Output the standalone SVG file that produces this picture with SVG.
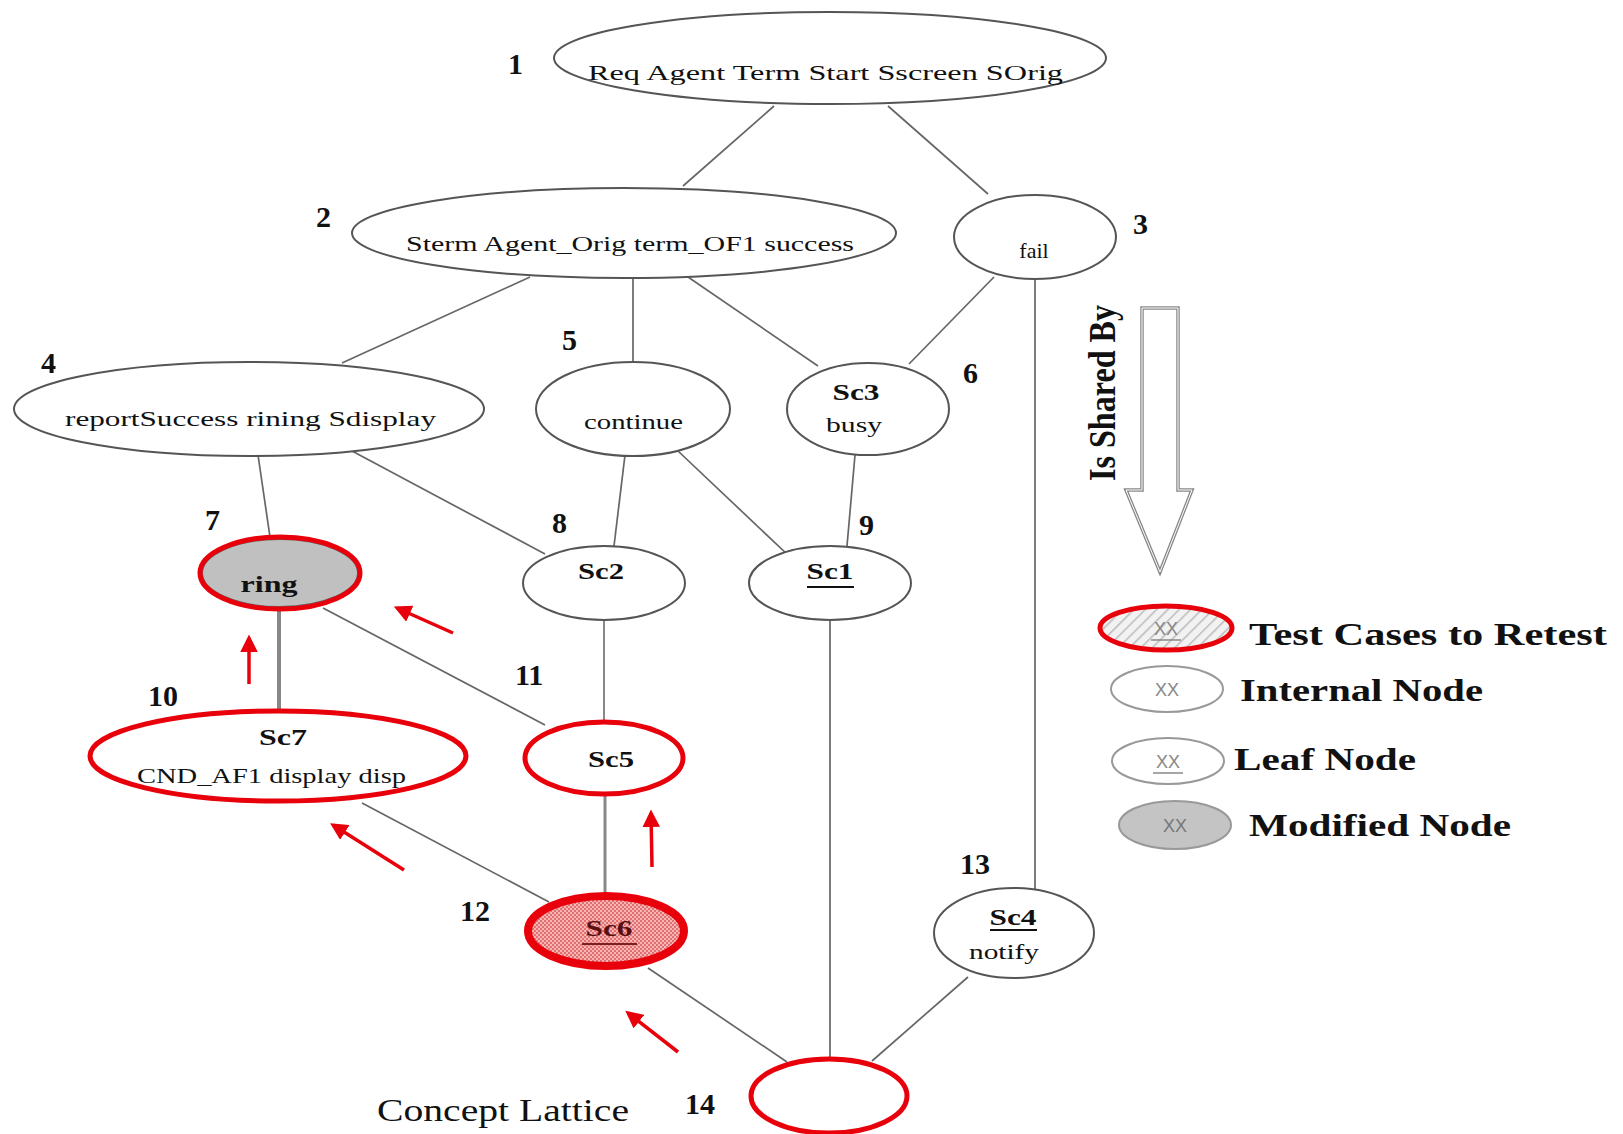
<svg xmlns="http://www.w3.org/2000/svg" width="1623" height="1134" viewBox="0 0 1623 1134">
<defs>
<style>
.nd{fill:#fff;stroke:#555;stroke-width:2}
.red{fill:none;stroke:#e8000b;stroke-width:5}
.t{font-family:"Liberation Serif",serif;font-size:22px;fill:#111}
.b{font-family:"Liberation Serif",serif;font-size:24px;font-weight:bold;fill:#111}
.num{font-family:"Liberation Serif",serif;font-size:30px;font-weight:bold;fill:#111}
.lg{font-family:"Liberation Serif",serif;font-size:32px;font-weight:bold;fill:#111}
.e{stroke:#666;stroke-width:1.7;fill:none}
.ra{stroke:#e8000b;stroke-width:3.5;fill:none;marker-end:url(#ah)}
.ul{stroke:#111;stroke-width:1.8}
</style>
<marker id="ah" viewBox="0 0 10 10" refX="8" refY="5" markerWidth="5" markerHeight="5" orient="auto">
<path d="M0,0 L10,5 L0,10 Z" fill="#e8000b"/>
</marker>
<pattern id="pink" width="4" height="4" patternUnits="userSpaceOnUse">
<rect width="4" height="4" fill="#f7b5b5"/>
<rect width="2" height="2" fill="#e07070"/>
<rect x="2" y="2" width="2" height="2" fill="#e07070"/>
</pattern>
<pattern id="hatch" width="8" height="8" patternUnits="userSpaceOnUse" patternTransform="rotate(45)">
<rect width="8" height="8" fill="#f2f2f2"/>
<line x1="0" y1="0" x2="0" y2="8" stroke="#bbb" stroke-width="3"/>
</pattern>
</defs>
<rect width="1623" height="1134" fill="#fff"/>

<g id="connectors">
<line class="e" x1="774" y1="106" x2="683" y2="186"/>
<line class="e" x1="888" y1="106" x2="988" y2="194"/>
<line class="e" x1="530" y1="277" x2="342" y2="363"/>
<line class="e" x1="633" y1="277" x2="633" y2="362"/>
<line class="e" x1="688" y1="277" x2="818" y2="366"/>
<line class="e" x1="994" y1="277" x2="909" y2="364"/>
<line class="e" x1="1035" y1="277" x2="1035" y2="890"/>
<line class="e" x1="258" y1="455" x2="270" y2="537"/>
<line class="e" x1="352" y1="451" x2="545" y2="554"/>
<line class="e" x1="625" y1="455" x2="614" y2="546"/>
<line class="e" x1="678" y1="451" x2="789" y2="556"/>
<line class="e" x1="855" y1="455" x2="847" y2="546"/>
<line x1="279" y1="610" x2="279" y2="710" stroke="#888" stroke-width="4"/>
<line class="e" x1="323" y1="608" x2="545" y2="725"/>
<line x1="604" y1="621" x2="604" y2="720" stroke="#888" stroke-width="2"/>
<line class="e" x1="830" y1="621" x2="830" y2="1058"/>
<line class="e" x1="362" y1="803" x2="549" y2="902"/>
<line x1="605" y1="795" x2="605" y2="895" stroke="#888" stroke-width="3"/>
<line class="e" x1="648" y1="968" x2="787" y2="1062"/>
<line class="e" x1="968" y1="977" x2="872" y2="1061"/>
</g>

<g id="change-arrows">
<line class="ra" x1="453" y1="633" x2="397" y2="608"/>
<line class="ra" x1="249" y1="684" x2="249" y2="638"/>
<line class="ra" x1="404" y1="870" x2="333" y2="825"/>
<line class="ra" x1="652" y1="867" x2="651" y2="813"/>
<line class="ra" x1="678" y1="1052" x2="628" y2="1013"/>
</g>

<g id="n1">
<ellipse class="nd" cx="830" cy="58" rx="276" ry="46"/>
<text class="t" x="588" y="80" textLength="475" lengthAdjust="spacingAndGlyphs">Req  Agent  Term  Start  Sscreen SOrig</text>
<text class="num" x="508" y="74">1</text>
</g>
<g id="n2">
<ellipse class="nd" cx="624" cy="233" rx="272" ry="45"/>
<text class="t" x="406" y="251" textLength="448" lengthAdjust="spacingAndGlyphs">Sterm  Agent_Orig  term_OF1  success</text>
<text class="num" x="316" y="227">2</text>
</g>
<g id="n3">
<ellipse class="nd" cx="1035" cy="237" rx="81" ry="42"/>
<text class="t" x="1034" y="258" text-anchor="middle">fail</text>
<text class="num" x="1133" y="234">3</text>
</g>
<g id="n4">
<ellipse class="nd" cx="249" cy="409" rx="235" ry="47"/>
<text class="t" x="65" y="426" textLength="371" lengthAdjust="spacingAndGlyphs">reportSuccess   rining   Sdisplay</text>
<text class="num" x="41" y="373">4</text>
</g>
<g id="n5">
<ellipse class="nd" cx="633" cy="409" rx="97" ry="47"/>
<text class="t" x="584" y="429" textLength="99" lengthAdjust="spacingAndGlyphs">continue</text>
<text class="num" x="562" y="350">5</text>
</g>
<g id="n6">
<ellipse class="nd" cx="868" cy="409" rx="81" ry="46"/>
<text class="b" x="856" y="400" text-anchor="middle" textLength="47" lengthAdjust="spacingAndGlyphs">Sc3</text>
<text class="t" x="854" y="432" text-anchor="middle" textLength="56" lengthAdjust="spacingAndGlyphs">busy</text>
<text class="num" x="963" y="383">6</text>
</g>
<g id="n7">
<ellipse cx="280" cy="573" rx="78" ry="34" fill="#c0c0c0" stroke="#666" stroke-width="2"/>
<ellipse class="red" cx="280" cy="573" rx="80" ry="36"/>
<text class="b" x="269" y="592" text-anchor="middle" textLength="57" lengthAdjust="spacingAndGlyphs">ring</text>
<text class="num" x="205" y="530">7</text>
</g>
<g id="n8">
<ellipse class="nd" cx="604" cy="583" rx="81" ry="37"/>
<text class="b" x="601" y="579" text-anchor="middle" textLength="46" lengthAdjust="spacingAndGlyphs">Sc2</text>
<text class="num" x="552" y="533">8</text>
</g>
<g id="n9">
<ellipse class="nd" cx="830" cy="583" rx="81" ry="37"/>
<text class="b" x="830" y="579" text-anchor="middle" textLength="47" lengthAdjust="spacingAndGlyphs">Sc1</text>
<line class="ul" x1="807" y1="587" x2="854" y2="587"/>
<text class="num" x="859" y="535">9</text>
</g>
<g id="n10">
<ellipse cx="278" cy="756" rx="188" ry="45" fill="#fff" stroke="#e8000b" stroke-width="5"/>
<text class="b" x="283" y="745" text-anchor="middle" textLength="48" lengthAdjust="spacingAndGlyphs">Sc7</text>
<text class="t" x="137" y="783" textLength="269" lengthAdjust="spacingAndGlyphs">CND_AF1 display disp</text>
<text class="num" x="148" y="706">10</text>
</g>
<g id="n11">
<ellipse cx="604" cy="758" rx="79" ry="36" fill="#fff" stroke="#e8000b" stroke-width="5"/>
<text class="b" x="611" y="767" text-anchor="middle" textLength="46" lengthAdjust="spacingAndGlyphs">Sc5</text>
<text class="num" x="515" y="685">11</text>
</g>
<g id="n12">
<ellipse cx="606" cy="931" rx="78" ry="35" fill="url(#pink)" stroke="#e8000b" stroke-width="8"/>
<text class="b" x="609" y="936" text-anchor="middle" textLength="47" lengthAdjust="spacingAndGlyphs" style="fill:#5a1010">Sc6</text>
<line x1="582" y1="944" x2="637" y2="944" stroke="#7a2020" stroke-width="1.8"/>
<text class="num" x="460" y="921">12</text>
</g>
<g id="n13">
<ellipse class="nd" cx="1014" cy="933" rx="80" ry="45"/>
<text class="b" x="1013" y="925" text-anchor="middle" textLength="47" lengthAdjust="spacingAndGlyphs">Sc4</text>
<line class="ul" x1="990" y1="930" x2="1037" y2="930"/>
<text class="t" x="1004" y="959" text-anchor="middle" textLength="70" lengthAdjust="spacingAndGlyphs">notify</text>
<text class="num" x="960" y="874">13</text>
</g>
<g id="n14">
<ellipse cx="829" cy="1096" rx="78" ry="37" fill="#fff" stroke="#e8000b" stroke-width="5"/>
<text class="num" x="685" y="1114">14</text>
</g>

<text id="caption" class="t" x="377" y="1121" style="font-size:31px" textLength="252" lengthAdjust="spacingAndGlyphs">Concept Lattice</text>

<g id="shared-arrow">
<path d="M1142,308 L1178,308 L1178,490 L1192,490 L1160,572 L1126,490 L1142,490 Z" fill="#fff" stroke="#888" stroke-width="3.5"/>
<path d="M1142,308 L1178,308 L1178,490 L1192,490 L1160,572 L1126,490 L1142,490 Z" fill="none" stroke="#fff" stroke-width="1"/>
<text class="b" x="0" y="0" style="font-size:38px" text-anchor="middle" textLength="176" lengthAdjust="spacingAndGlyphs" transform="translate(1115,393) rotate(-90)">Is Shared By</text>
</g>

<g id="legend">
<g id="lg-retest">
<ellipse cx="1166" cy="628" rx="66" ry="22" fill="url(#hatch)" stroke="#e8000b" stroke-width="5"/>
<text x="1166" y="635" text-anchor="middle" font-family="Liberation Sans,sans-serif" font-size="18" fill="#888">XX</text>
<line x1="1151" y1="640" x2="1181" y2="640" stroke="#888" stroke-width="1.5"/>
<text class="lg" x="1249" y="645" textLength="358" lengthAdjust="spacingAndGlyphs">Test Cases to Retest</text>
</g>
<g id="lg-internal">
<ellipse cx="1167" cy="689" rx="56" ry="23" fill="#fff" stroke="#999" stroke-width="2"/>
<text x="1167" y="696" text-anchor="middle" font-family="Liberation Sans,sans-serif" font-size="18" fill="#888">XX</text>
<text class="lg" x="1240" y="701" textLength="243" lengthAdjust="spacingAndGlyphs">Internal Node</text>
</g>
<g id="lg-leaf">
<ellipse cx="1168" cy="761" rx="56" ry="23" fill="#fff" stroke="#999" stroke-width="2"/>
<text x="1168" y="768" text-anchor="middle" font-family="Liberation Sans,sans-serif" font-size="18" fill="#888">XX</text>
<line x1="1153" y1="773" x2="1183" y2="773" stroke="#888" stroke-width="1.5"/>
<text class="lg" x="1234" y="770" textLength="182" lengthAdjust="spacingAndGlyphs">Leaf Node</text>
</g>
<g id="lg-modified">
<ellipse cx="1175" cy="825" rx="56" ry="24" fill="#c4c4c4" stroke="#999" stroke-width="2"/>
<text x="1175" y="832" text-anchor="middle" font-family="Liberation Sans,sans-serif" font-size="18" fill="#777">XX</text>
<text class="lg" x="1249" y="836" textLength="262" lengthAdjust="spacingAndGlyphs">Modified Node</text>
</g>
</g>
</svg>
